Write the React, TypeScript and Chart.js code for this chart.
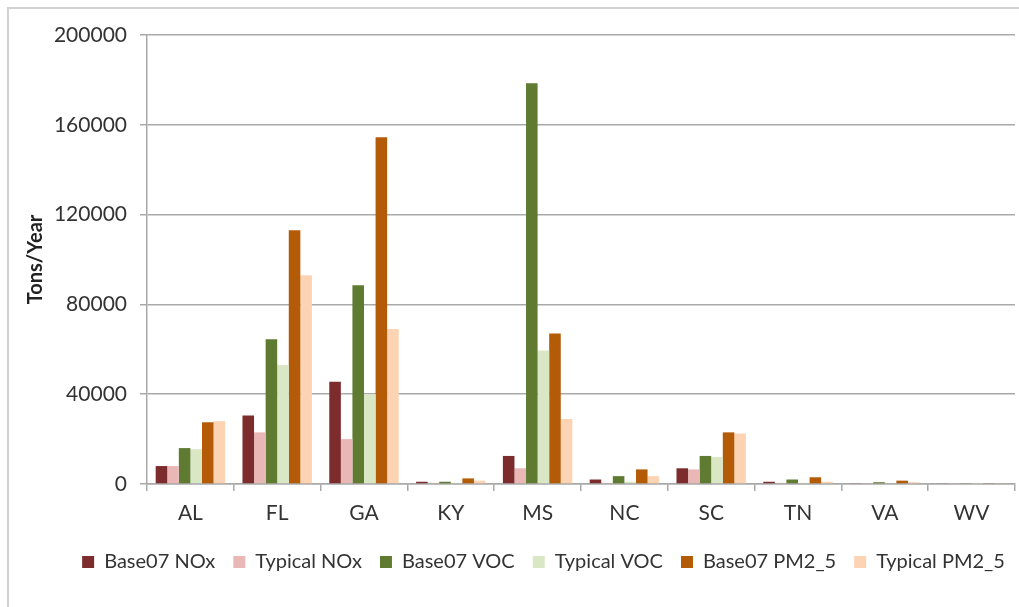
import React, { useEffect, useRef } from "react";
import { Chart, registerables } from "chart.js";

Chart.register(...registerables);

const states = ["AL", "FL", "GA", "KY", "MS", "NC", "SC", "TN", "VA", "WV"];
const base07NOx = [8000, 30500, 45500, 1000, 12500, 2000, 7000, 1000, 300, 300];
const typicalNOx = [8000, 23000, 20000, 500, 7000, 500, 6500, 500, 200, 200];
const base07VOC = [16000, 64500, 88500, 1000, 178500, 3500, 12500, 2000, 800, 300];
const typicalVOC = [15500, 53000, 40000, 500, 59500, 1000, 12000, 500, 400, 200];
const base07PM = [27500, 113000, 154500, 2500, 67000, 6500, 23000, 3000, 1500, 400];
const typicalPM = [28000, 93000, 69000, 1500, 29000, 3500, 22500, 1000, 800, 300];
const yTicks = [0, 40000, 80000, 120000, 160000, 200000];

const seriesNames = [
  "Base07 NOx",
  "Typical NOx",
  "Base07 VOC",
  "Typical VOC",
  "Base07 PM2_5",
  "Typical PM2_5",
];
const seriesColors = ["#7c2c2c", "#e9b8b6", "#5f7b32", "#d9e7c5", "#b45b08", "#fcd4b3"];
const seriesData = [base07NOx, typicalNOx, base07VOC, typicalVOC, base07PM, typicalPM];

const FONT = "Lato, 'Open Sans', sans-serif";

const legendShift = {
  id: "legendShift",
  afterLayout(chart: any) {
    const l = chart.legend;
    if (l) {
      l.left += 11;
      l.right += 11;
    }
  },
};

export default function App() {
  const canvasRef = useRef<HTMLCanvasElement | null>(null);

  useEffect(() => {
    if (!canvasRef.current) return;
    const chart = new Chart(canvasRef.current, {
      type: "bar",
      data: {
        labels: states,
        datasets: seriesNames.map((name, i) => ({
          label: name,
          data: seriesData[i],
          backgroundColor: seriesColors[i],
          borderWidth: 0,
          categoryPercentage: 0.8,
          barPercentage: 1.0,
        })),
      },
      plugins: [legendShift],
      options: {
        animation: false,
        responsive: false,
        maintainAspectRatio: false,
        layout: { padding: { left: 50, right: 4, top: 35, bottom: 25 } },
        plugins: {
          tooltip: { enabled: false },
          legend: {
            position: "bottom",
            labels: {
              boxWidth: 12,
              boxHeight: 12,
              padding: 18,
              color: "#333333",
              font: { family: FONT, size: 20 },
            },
          },
        },
        scales: {
          x: {
            grid: {
              drawOnChartArea: false,
              drawTicks: true,
              tickLength: 7,
              color: "#a9a9a9",
              lineWidth: 1.5,
              offset: true,
            },
            border: { color: "#a9a9a9", width: 1.5 },
            ticks: {
              color: "#333333",
              font: { family: FONT, size: 21 },
              padding: 10,
              maxRotation: 0,
            },
            afterFit: (scale: any) => {
              scale.height = 50;
            },
          },
          y: {
            min: 0,
            max: 200000,
            afterBuildTicks: (scale: any) => {
              scale.ticks = yTicks.map((v) => ({ value: v }));
            },
            afterFit: (scale: any) => {
              scale.width = 147 - 50;
            },
            grid: {
              color: "#a9a9a9",
              lineWidth: 1.5,
              tickLength: 7,
            },
            border: { color: "#a9a9a9", width: 1.5 },
            ticks: {
              color: "#333333",
              font: { family: FONT, size: 21 },
              padding: 13,
              callback: (v: any) => String(v),
            },
            title: {
              display: true,
              text: "Tons/Year",
              color: "#222222",
              font: { family: FONT, size: 20, weight: "bold" },
              padding: { top: -26.5, bottom: 0 },
            },
          },
        },
      },
    });
    return () => chart.destroy();
  }, []);

  return (
    <div
      style={{
        position: "absolute",
        left: 0,
        top: 0,
        width: 1019,
        height: 607,
        overflow: "hidden",
        background: "#ffffff",
      }}
    >
      <div
        style={{
          position: "absolute",
          left: 7,
          top: 7,
          width: 1040,
          height: 640,
          border: "2px solid #d2d2d2",
        }}
      />
      <canvas
        ref={canvasRef}
        width={1019}
        height={607}
        style={{ position: "absolute", left: 0, top: 0, width: 1019, height: 607 }}
      />
    </div>
  );
}
